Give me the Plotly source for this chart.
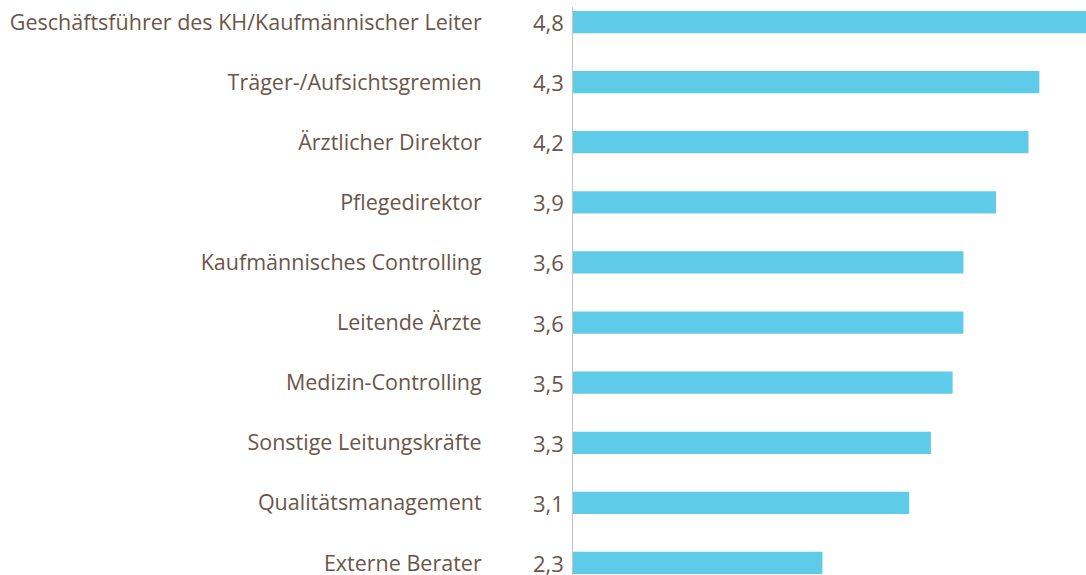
import plotly.graph_objects as go

# Daten
kategorien = [
    "Geschäftsführer des KH/Kaufmännischer Leiter",
    "Träger-/Aufsichtsgremien",
    "Ärztlicher Direktor",
    "Pflegedirektor",
    "Kaufmännisches Controlling",
    "Leitende Ärzte",
    "Medizin-Controlling",
    "Sonstige Leitungskräfte",
    "Qualitätsmanagement",
    "Externe Berater",
]
werte = [4.8, 4.3, 4.2, 3.9, 3.6, 3.6, 3.5, 3.3, 3.1, 2.3]
wert_texte = ["4,8", "4,3", "4,2", "3,9", "3,6", "3,6", "3,5", "3,3", "3,1", "2,3"]

BRAUN = "#6b5548"
BLAU = "#5ecbe8"
SCHRIFT = "Open Sans"

fig = go.Figure()
fig.add_trace(go.Bar(
    x=werte, y=kategorien, orientation="h",
    marker=dict(color=BLAU, line=dict(width=0)),
    width=0.37, hoverinfo="skip",
))

# Werte links der Achse
for kat, txt in zip(kategorien, wert_texte):
    fig.add_annotation(x=0, y=kat, xref="x", yref="y", text=txt,
                       showarrow=False, xanchor="right", xshift=-7,
                       font=dict(family=SCHRIFT, size=22, color=BRAUN))

fig.update_xaxes(range=[0, 4.73], visible=False, fixedrange=True,
                 automargin=False)
fig.update_yaxes(
    type="category", categoryorder="array", categoryarray=kategorien,
    range=[9.2, -0.25], showgrid=False, zeroline=False,
    showline=True, linecolor="#c4c4c4", linewidth=1,
    ticks="", ticklabelstandoff=86, automargin=False, fixedrange=True,
    tickfont=dict(family=SCHRIFT, size=21.5, color=BRAUN),
)
fig.update_layout(
    width=1086, height=575,
    margin=dict(l=573, r=0, t=7, b=0, autoexpand=False),
    paper_bgcolor="white", plot_bgcolor="white",
    showlegend=False,
)

# Seitenrand des Browsers weg, damit die Grafik genau ins Fenster passt
fig.write_html("out.html", config={"displayModeBar": False},
               post_script="document.body.style.margin='0';")
